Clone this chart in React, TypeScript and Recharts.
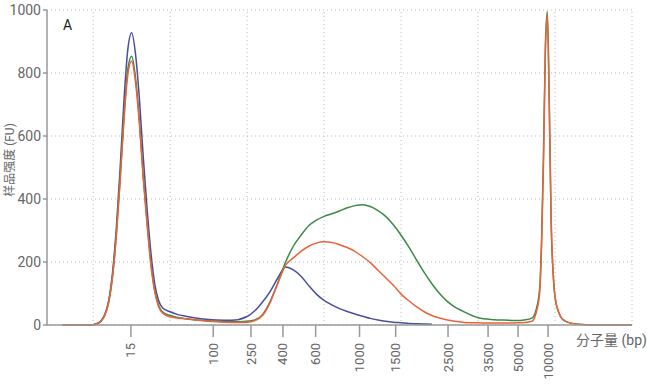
import {
  LineChart,
  Line,
  XAxis,
  YAxis,
  CartesianGrid,
  ReferenceLine,
} from "recharts";

// migration time (arbitrary units) of each sample point
const times = [
  16, 18, 19, 20, 20.5, 21, 21.5, 22, 22.5, 23, 23.5, 24, 24.5, 25, 25.5, 26,
  26.5, 27, 27.5, 28, 28.5, 29, 30, 31, 32, 34, 36, 38, 40, 41, 42, 43, 44, 45,
  46, 47, 48, 49, 50, 51, 52, 53, 54, 55, 56, 57, 58, 59, 60, 61, 62, 63, 64,
  65, 66, 67, 68, 70, 72, 74, 75, 76, 77, 77.5, 78, 78.25, 78.5, 78.75, 79,
  79.25, 79.5, 79.75, 80, 80.5, 81, 82, 84, 87, 90,
];

const blueFU = [
  0, 0, 0, 1, 5, 13, 33, 76, 163, 305, 497, 713, 875, 928, 860, 720, 535, 370,
  230, 130, 78, 55, 42, 33, 28, 20, 16, 15, 27, 45, 73, 107, 150, 184, 175, 155,
  125, 98, 78, 64, 52, 43, 35, 28, 21, 16, 12, 9, 7, 5, 4, 3, 2,
];

const greenFU = [
  0, 0, 0, 1, 4, 12, 31, 72, 153, 286, 465, 665, 812, 853, 785, 652, 475, 328,
  196, 110, 63, 42, 30, 24, 20, 15, 12, 10, 12, 16, 33, 75, 135, 200, 250, 285,
  315, 333, 345, 353, 362, 372, 379, 382, 376, 363, 345, 318, 285, 248, 207,
  167, 131, 100, 75, 57, 44, 23, 17, 15, 14, 16, 22, 45, 115, 270, 540, 890,
  995, 710, 320, 165, 88, 38, 17, 6, 1, 0, 0,
];

const orangeFU = [
  0, 0, 0, 1, 4, 12, 30, 70, 150, 280, 455, 650, 795, 838, 770, 640, 465, 320,
  190, 105, 58, 38, 26, 22, 20, 14, 10, 8, 9, 14, 30, 72, 133, 190, 213, 234,
  250, 260, 264, 262, 255, 246, 234, 217, 198, 174, 150, 126, 98, 77, 58, 42,
  30, 22, 16, 12, 9, 7, 6, 6, 7, 8, 12, 35, 100, 250, 510, 870, 985, 700, 330,
  170, 90, 40, 18, 6, 1, 0, 0,
];

// ladder: size labels and where they sit on the time axis
const ladderBp = ["15", "100", "250", "400", "600", "1000", "1500", "2500", "3500", "5000", "10000"];
const ladderTimes = [24.9, 35.6, 40.5, 44.65, 48.9, 54.6, 59.3, 66.1, 71.3, 75.2, 79.1];

const gridTimes = [20, 30, 40, 50, 60, 70, 80, 90];
const yTicks = [0, 200, 400, 600, 800, 1000];

const data = times.map((t, i) => ({
  t,
  blue: blueFU[i],
  green: greenFU[i],
  orange: orangeFU[i],
}));

const font = "Roboto, 'Noto Sans CJK SC', sans-serif";

const BpTick = ({ x, y, payload }: any) => {
  const idx = ladderTimes.indexOf(payload.value);
  return (
    <g transform={`translate(${x},${y})`}>
      <text
        transform="rotate(-90)"
        textAnchor="end"
        dy="0.35em"
        fontSize={13}
        fill="#666"
        fontFamily={font}
      >
        {ladderBp[idx]}
      </text>
    </g>
  );
};

export default function App() {
  return (
    <div
      style={{
        position: "absolute",
        left: 0,
        top: 0,
        width: 650,
        height: 385,
        background: "#fff",
        fontFamily: font,
      }}
    >
      <LineChart
        width={650}
        height={385}
        data={data}
        margin={{ top: 10, right: 18, bottom: 0, left: 0 }}
      >
        <CartesianGrid
          vertical={false}
          stroke="#bbb"
          strokeDasharray="1 3"
        />
        {gridTimes.map((g) => (
          <ReferenceLine
            key={g}
            x={g}
            stroke="#bbb"
            strokeDasharray="1 3"
          />
        ))}
        <XAxis
          dataKey="t"
          type="number"
          domain={[14, 90]}
          ticks={ladderTimes}
          interval={0}
          tick={<BpTick />}
          tickSize={12}
          tickMargin={6}
          height={60}
          stroke="#999"
          strokeWidth={1.5}
          allowDataOverflow
        />
        <YAxis
          type="number"
          domain={[0, 1000]}
          ticks={yTicks}
          width={47}
          tickSize={4}
          tickMargin={2}
          stroke="#999"
          strokeWidth={1.5}
          tick={{ fontSize: 14, fill: "#666", fontFamily: font }}
        />
        <Line
          dataKey="blue"
          stroke="#4a4e9c"
          strokeWidth={1.5}
          dot={false}
          type="monotone"
          isAnimationActive={false}
        />
        <Line
          dataKey="green"
          stroke="#3a8a45"
          strokeWidth={1.5}
          dot={false}
          type="monotone"
          isAnimationActive={false}
        />
        <Line
          dataKey="orange"
          stroke="#e9623c"
          strokeWidth={1.5}
          dot={false}
          type="monotone"
          isAnimationActive={false}
        />
      </LineChart>
      <div
        style={{
          position: "absolute",
          left: 10,
          top: 160,
          transform: "translate(-50%, -50%) rotate(-90deg)",
          fontSize: 12,
          lineHeight: 1,
          color: "#666",
          whiteSpace: "nowrap",
        }}
      >
        样品强度 (FU)
      </div>
      <div
        style={{
          position: "absolute",
          left: 63,
          top: 17,
          fontSize: 14,
          color: "#222",
        }}
      >
        A
      </div>
      <div
        style={{
          position: "absolute",
          left: 576,
          top: 329,
          fontSize: 14,
          color: "#666",
          whiteSpace: "nowrap",
        }}
      >
        分子量 (bp)
      </div>
    </div>
  );
}
